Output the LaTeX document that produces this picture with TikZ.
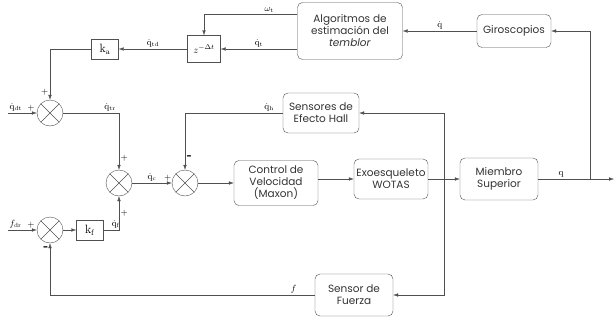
\documentclass[tikz,border=0pt]{standalone}
\usepackage[no-math]{fontspec}
\setmainfont{Poppins}
\usepackage{xcolor}
\usepackage{tikz}
\usetikzlibrary{arrows.meta}
\usetikzlibrary{positioning}
\usetikzlibrary{calc}
\definecolor{linea}{RGB}{80,80,80}
\def\qd{\dot{\mathrm{q}}}
\tikzset{
  bloque/.style={draw=linea, rounded corners=5pt, align=center, inner sep=1pt,
    font=\fontsize{10.5}{12}\selectfont, text=black!80},
  caja/.style={draw=linea, inner sep=0pt},
  suma/.style={draw=linea, circle, minimum size=26pt, inner sep=0pt,
    path picture={\draw[linea] (path picture bounding box.north west) -- (path picture bounding box.south east)
      (path picture bounding box.north east) -- (path picture bounding box.south west);}},
  flecha/.style={draw=linea, -{Latex[length=5pt,width=3.5pt]}},
  senal/.style={font=\small, inner sep=1.5pt}
}

\begin{document}
\begin{tikzpicture}[x=1pt,y=-1pt]
\useasboundingbox (0,0) rectangle (614,322);
% bloques
\node[bloque, minimum width=105pt, minimum height=57pt] (algo) at (350,31) {Algoritmos de\\estimación del\\\textit{temblor}};
\node[bloque, minimum width=74pt, minimum height=33pt] (giro) at (514,31) {Giroscopios};
\node[caja, minimum width=33pt, minimum height=27pt] (zdel) at (204,49) {$z^{-\Delta t}$};
\node[caja, minimum width=27pt, minimum height=20pt] (ka) at (105,49) {\large$\mathrm{k}_{\mathrm{a}}$};
\node[bloque, minimum width=76pt, minimum height=40pt] (hall) at (321,113) {Sensores de\\Efecto Hall};
\node[bloque, minimum width=84pt, minimum height=45pt] (ctrl) at (276,183) {Control de\\Velocidad\\(Maxon)};
\node[bloque, minimum width=74pt, minimum height=40pt] (exo) at (391,179) {Exoesqueleto\\WOTAS};
\node[bloque, minimum width=78pt, minimum height=42pt] (miembro) at (499,179) {Miembro\\Superior};
\node[bloque, minimum width=78pt, minimum height=42pt] (fuerza) at (354,295) {Sensor de\\Fuerza};
\node[caja, minimum width=27pt, minimum height=20pt] (kf) at (90,230) {\large$\mathrm{k}_{\mathrm{f}}$};
% sumadores
\node[suma] (s1) at (50,113) {};
\node[suma] (s2) at (119,183) {};
\node[suma] (s3) at (185,183) {};
\node[suma] (s4) at (50,230) {};
% puntos libres
\coordinate (qdt) at (8,113);
\coordinate (fdr) at (8,230);
\coordinate (salida) at (614,179);
\coordinate (rama) at (590,179);
\coordinate (nodo) at ($(exo.east)!0.5!(miembro.west)$);

% lazo del temblor
\draw[flecha] (giro) -- (algo) node[midway, above, senal] {$\qd$};
\draw[flecha] ([yshift=17pt]algo.west) -| (zdel.north) node[pos=0.15, above, senal] {$\omega_{\mathrm{t}}$};
\draw[flecha] ([yshift=-18pt]algo.west) -- (zdel) node[midway, above, senal] {$\qd_{\mathrm{t}}$};
\draw[flecha] (zdel) -- (ka) node[midway, above, senal] {$\qd_{\mathrm{td}}$};
\draw[flecha] (ka) -| (s1.north) node[pos=0.93, left, senal] {$+$};
\draw[flecha] (qdt) -- (s1) node[at start, above right, senal] {$\qd_{\mathrm{dt}}$} node[pos=0.8, above, senal] {$+$};
\draw[flecha] (s1) -| (s2.north) node[pos=0.42, above, senal] {$\qd_{\mathrm{tr}}$} node[pos=0.9, right, senal] {$+$};
% lazo de fuerza
\draw[flecha] (fdr) -- (s4) node[at start, above right, senal] {$f_{\mathrm{dr}}$} node[pos=0.8, above, senal] {$+$};
\draw[flecha] (s4) -- (kf);
\draw[flecha] (kf) -| (s2.south) node[pos=0.4, above, senal] {$\qd_{\mathrm{f}}$} node[pos=0.75, right, senal] {$+$};
\draw[flecha] (fuerza) -| (s4.south) node[pos=0.04, above, senal] {$f$} node[pos=0.95, left, senal] {\textbf{-}};
% lazo de velocidad
\draw[flecha] (s2) -- (s3) node[midway, above, senal] {$\qd_{\mathrm{c}}$} node[pos=0.9, above, senal] {$+$};
\draw[flecha] (hall) -| (s3.north) node[pos=0.07, above, senal] {$\qd_{\mathrm{h}}$} node[pos=0.89, right, senal] {\textbf{-}};
\draw[flecha] (s3) -- (ctrl);
\draw[flecha] (ctrl.east |- exo) -- (exo);
\draw[flecha] (exo) -- (miembro);
\draw[flecha] (miembro) -- (salida) node[pos=0.3, above, senal] {$\mathrm{q}$};
\draw[flecha] (rama) |- (giro);
\draw[flecha] (nodo) |- (hall);
\draw[flecha] (nodo) |- (fuerza);
\end{tikzpicture}
\end{document}
